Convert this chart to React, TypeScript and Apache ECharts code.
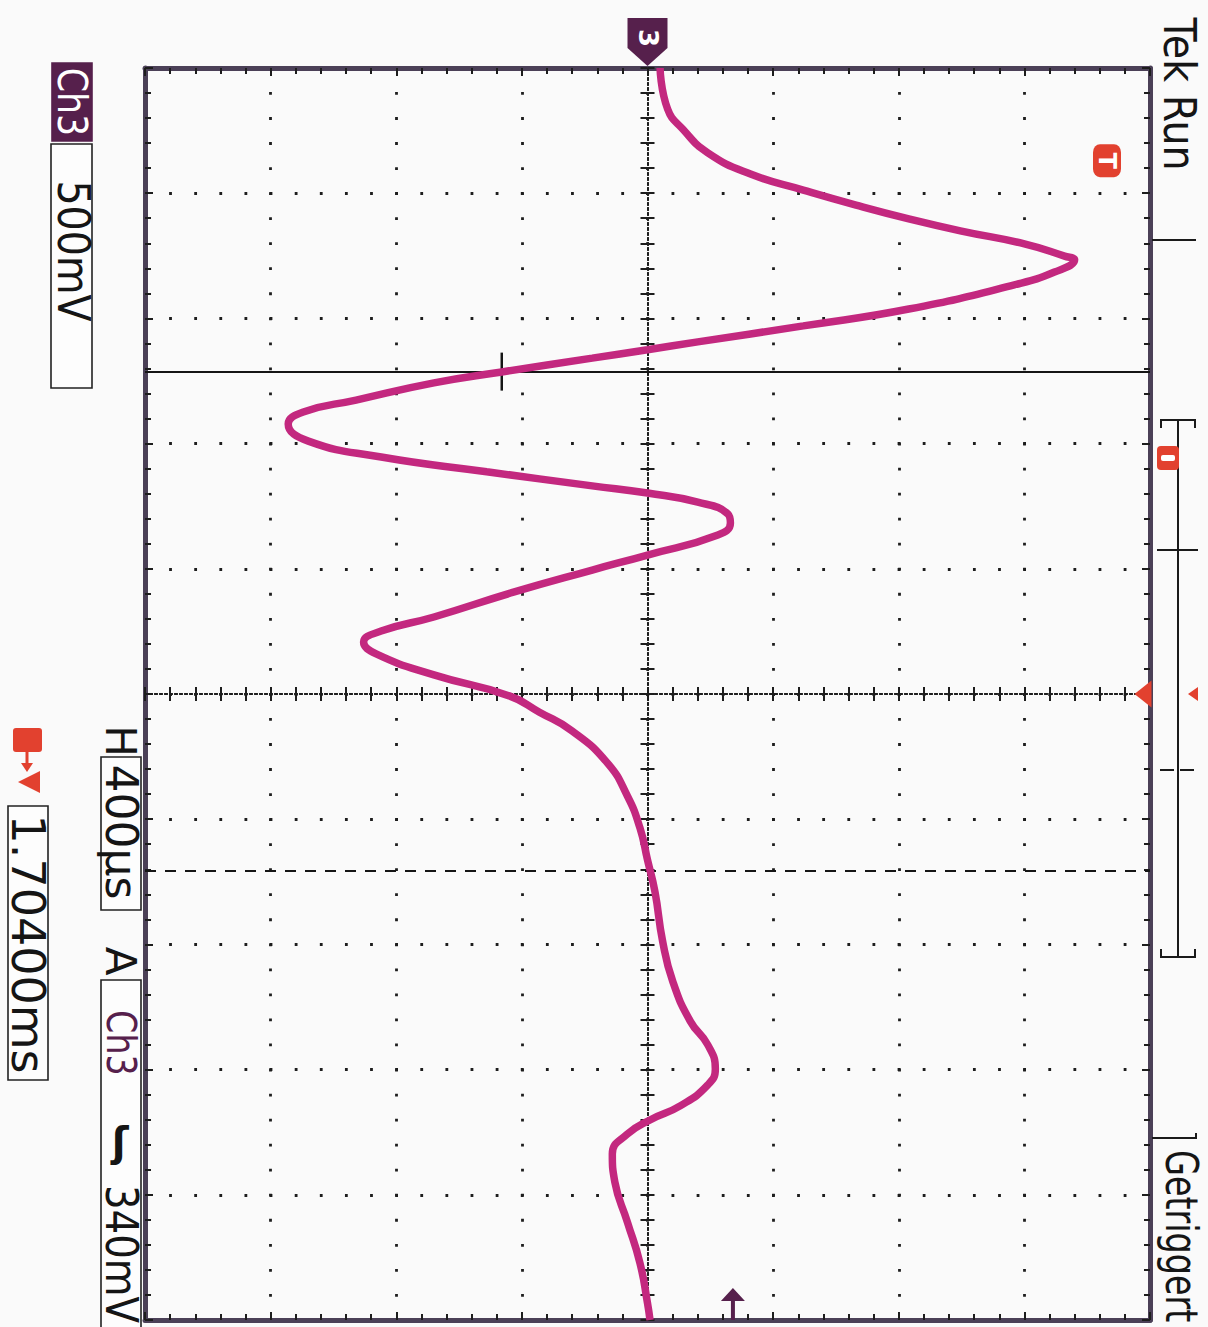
import React, { useEffect, useRef } from "react";
import * as echarts from "echarts";

// ---- data (time in µs relative to screen centre, Ch3 in volts) ----
const timeUs = [-2000, -1869, -1805, -1729, -1661, -1610, -1562, -1518, -1479, -1438, -1399, -1387, -1348, -1307, -1230, -1176, -1125, -1100, -1073, -1029, -994, -939, -901, -863, -808, -757, -710, -665, -642, -613, -575, -546, -508, -444, -396, -326, -246, -201, -166, -128, -61, 6, 58, 118, 220, 326, 428, 530, 633, 789, 917, 1045, 1121, 1198, 1249, 1316, 1361, 1406, 1470, 1559, 1687, 1818, 1946, 2000];
const ch3Volts = [0.05, 0.08, 0.14, 0.24, 0.41, 0.62, 0.83, 1.04, 1.25, 1.5, 1.66, 1.7, 1.62, 1.46, 1.04, 0.62, 0.2, 0, -0.22, -0.58, -0.85, -1.16, -1.37, -1.43, -1.35, -1.06, -0.64, -0.22, 0, 0.2, 0.32, 0.33, 0.28, 0, -0.22, -0.53, -0.85, -1.06, -1.13, -1.08, -0.85, -0.55, -0.43, -0.3, -0.16, -0.08, -0.03, 0, 0.03, 0.06, 0.1, 0.17, 0.24, 0.27, 0.24, 0.13, 0.01, -0.08, -0.14, -0.13, -0.08, -0.03, 0, 0.01];

const voltMin = -2;
const voltMax = 2;
const voltStep = 0.5; // 500 mV / div
const timeMin = -2000;
const timeMax = 2000;
const timeStep = 400; // 400 µs / div

const cursorSolidUs = -1030;
const cursorDashedUs = 565;
const cursorCrossV = -0.58;
const triggerLevelV = 0.34;
const triggerDelayUs = 1704;

const labels = {
  status: "Tek Run",
  trig: "Getriggert",
  ch: "Ch3",
  scale: "500mV",
  h: "H",
  hScale: "400µs",
  a: "A",
  level: "340mV",
  delay: "1.70400ms",
  ground: "3",
};

const FRAME = "#4b4057";
const DOT = "#1d1d1d";
const TRACE = "#c3287f";
const MARK = "#56204c";
const RED = "#e2412f";
const FONT = "DejaVu Sans";

function rtext(text: string, x: number, y: number, size: number, o: any = {}) {
  return {
    type: "text",
    x,
    y,
    rotation: o.rotate === false ? 0 : -Math.PI / 2,
    scaleX: o.scale ?? 1,
    z: 100,
    style: {
      text,
      fontFamily: FONT,
      fontSize: size,
      fontWeight: o.weight ?? "normal",
      fill: o.fill ?? "#151515",
      align: o.align ?? "center",
      verticalAlign: "middle",
    },
  };
}
function ln(x1: number, y1: number, x2: number, y2: number, color = "#1a1a1a", w = 2, dash?: number[]) {
  return { type: "line", z: 100, shape: { x1, y1, x2, y2 }, style: { stroke: color, lineWidth: w, lineDash: dash } };
}
function box(x: number, y: number, width: number, height: number, fill = "#fdfdfd", stroke = "#222") {
  return { type: "rect", z: 90, shape: { x, y, width, height }, style: { fill, stroke, lineWidth: 1.6 } };
}

export default function App() {
  const ref = useRef<HTMLDivElement>(null);
  useEffect(() => {
    document.body.style.margin = "0";
    const chart = echarts.init(ref.current!, null, { renderer: "svg" });

    const tick = { color: DOT, width: 2 };
    const frameAxis = (pos: string, split: boolean, dash: number[]) => ({
      type: "value",
      position: pos,
      axisLine: { show: true, onZero: false, lineStyle: { color: FRAME, width: 5 } },
      axisTick: { show: true, inside: true, length: 8, lineStyle: tick },
      minorTick: { show: true, splitNumber: 5, length: 6, lineStyle: tick },
      axisLabel: { show: false },
      splitLine: { show: split, lineStyle: { color: DOT, width: 2.8, type: dash, dashOffset: 1.4 } },
    });
    const centreAxis = (pos: string) => ({
      type: "value",
      position: pos,
      axisLine: { show: true, onZero: true, onZeroAxisIndex: 0, lineStyle: { color: DOT, width: 2, type: [2, 3] } },
      axisTick: { show: true, inside: false, length: 7, lineStyle: tick },
      minorTick: { show: true, splitNumber: 5, length: 7, lineStyle: tick },
      axisLabel: { show: false },
      splitLine: { show: false },
    });
    const xr = { min: voltMin, max: voltMax, interval: voltStep };
    const yr = { min: timeMin, max: timeMax, interval: timeStep, inverse: true };

    chart.setOption({
      animation: false,
      backgroundColor: "#fafafa",
      grid: { left: 145, right: 58, top: 68, bottom: 7, containLabel: false },
      xAxis: [
        { ...frameAxis("bottom", true, [2.8, 22.24]), ...xr },
        { ...frameAxis("top", false, [2.8, 22.24]), ...xr },
        { ...centreAxis("bottom"), ...xr },
        { ...centreAxis("top"), ...xr },
      ],
      yAxis: [
        { ...frameAxis("left", true, [2.8, 22.32]), ...yr },
        { ...frameAxis("right", false, [2.8, 22.32]), ...yr },
        { ...centreAxis("left"), ...yr },
        { ...centreAxis("right"), ...yr },
      ],
      series: [
        {
          type: "line",
          xAxisIndex: 0,
          yAxisIndex: 0,
          data: timeUs.map((t, i) => [ch3Volts[i], t]),
          smooth: 0.5,
          showSymbol: false,
          symbol: "none",
          z: 5,
          lineStyle: { color: TRACE, width: 7.5 },
          markLine: {
            silent: true,
            symbol: "none",
            label: { show: false },
            data: [
              { yAxis: cursorSolidUs, lineStyle: { type: "solid", color: "#151515", width: 2.2 } },
              { yAxis: cursorDashedUs, lineStyle: { type: [11, 9], color: "#151515", width: 2.2 } },
            ],
          },
          markPoint: {
            silent: true,
            label: { show: false },
            data: [
              { coord: [cursorCrossV, cursorSolidUs], symbol: "rect", symbolSize: [2.5, 38], itemStyle: { color: "#151515" } },
              {
                coord: [0, timeMin],
                symbol: "path://M0,0 L40,0 L40,30 L20,48 L0,30 Z",
                symbolSize: [40, 48],
                symbolOffset: [0, -26],
                itemStyle: { color: MARK },
              },
              {
                coord: [triggerLevelV, timeMax],
                symbol: "path://M12,0 L24,13 L14,13 L14,32 L10,32 L10,13 L0,13 Z",
                symbolSize: [24, 32],
                symbolOffset: [0, -16],
                itemStyle: { color: MARK },
              },
              {
                coord: [voltMax, 0],
                symbol: "path://M0,13 L16,0 L16,26 Z",
                symbolSize: [17, 27],
                symbolOffset: [-7, 0],
                itemStyle: { color: RED },
              },
              {
                coord: [voltMax, 0],
                symbol: "path://M0,7 L10,0 L10,14 Z",
                symbolSize: [10, 14],
                symbolOffset: [43, 0],
                itemStyle: { color: RED },
              },
              {
                coord: [voltMax, -triggerDelayUs],
                symbol: "roundRect",
                symbolSize: [28, 33],
                symbolOffset: [-43, 0],
                itemStyle: { color: RED },
              },
            ],
          },
        },
      ],
    });

    const px = (v: number, t: number) => chart.convertToPixel({ xAxisIndex: 0, yAxisIndex: 0 }, [v, t]) as number[];
    const gnd = px(0, timeMin);
    const trg = px(voltMax, -triggerDelayUs);

    chart.setOption({
      graphic: [
        rtext(labels.ground, gnd[0], gnd[1] - 30, 26, { fill: "#ffffff", weight: "bold" }),
        rtext("T", trg[0] - 43, trg[1], 24, { fill: "#ffffff", weight: "bold" }),
        // right column
        rtext(labels.status, 1179, 94, 44, { scale: 0.9 }),
        ln(1152, 240, 1196, 240),
        ln(1178, 420, 1178, 957),
        ln(1160, 420, 1196, 420),
        ln(1161, 419, 1161, 428),
        ln(1195, 419, 1195, 428),
        ln(1160, 957, 1196, 957),
        ln(1161, 949, 1161, 958),
        ln(1195, 949, 1195, 958),
        ln(1157, 550, 1198, 550),
        ln(1160, 770, 1196, 770, "#1a1a1a", 2, [14, 6]),
        { type: "rect", z: 101, shape: { x: 1157, y: 446, width: 22, height: 24, r: 4 }, style: { fill: RED } },
        { type: "rect", z: 102, shape: { x: 1161, y: 455, width: 14, height: 6, r: 2 }, style: { fill: "#ffffff" } },
        ln(1152, 1138, 1197, 1138),
        ln(1196, 1133, 1196, 1139),
        rtext(labels.trig, 1181, 1150, 44, { scale: 0.76, align: "left" }),
        // left column
        box(52, 63, 40, 78, MARK, MARK),
        rtext(labels.ch, 72, 102, 40, { fill: "#ffffff", scale: 0.87 }),
        box(51, 144, 41, 244),
        rtext(labels.scale, 73, 251, 44, { scale: 0.9 }),
        rtext(labels.h, 120, 741, 42),
        box(101, 757, 40, 153),
        rtext(labels.hScale, 121, 832, 44, { scale: 1.0 }),
        rtext(labels.a, 120, 961, 42),
        box(101, 980, 40, 360),
        rtext(labels.ch, 121, 1043, 40, { fill: MARK, scale: 0.83 }),
        rtext("ʃ", 120, 1142, 40, { rotate: false, weight: "bold" }),
        rtext(labels.level, 121, 1254, 44, { scale: 0.88 }),
        { type: "rect", z: 101, shape: { x: 13, y: 728, width: 29, height: 24, r: 3 }, style: { fill: RED } },
        rtext("T", 27, 740, 20, { fill: "#ffffff", weight: "bold" }),
        ln(27, 752, 27, 766, RED, 3),
        { type: "polygon", z: 101, shape: { points: [[21, 763], [33, 763], [27, 772]] }, style: { fill: RED } },
        { type: "polygon", z: 101, shape: { points: [[18, 782], [40, 771], [40, 793]] }, style: { fill: RED } },
        box(8, 806, 40, 274),
        rtext(labels.delay, 28, 944, 46, { scale: 1.0 }),
      ],
    });

    return () => chart.dispose();
  }, []);
  return <div ref={ref} style={{ width: 1208, height: 1327 }} />;
}
